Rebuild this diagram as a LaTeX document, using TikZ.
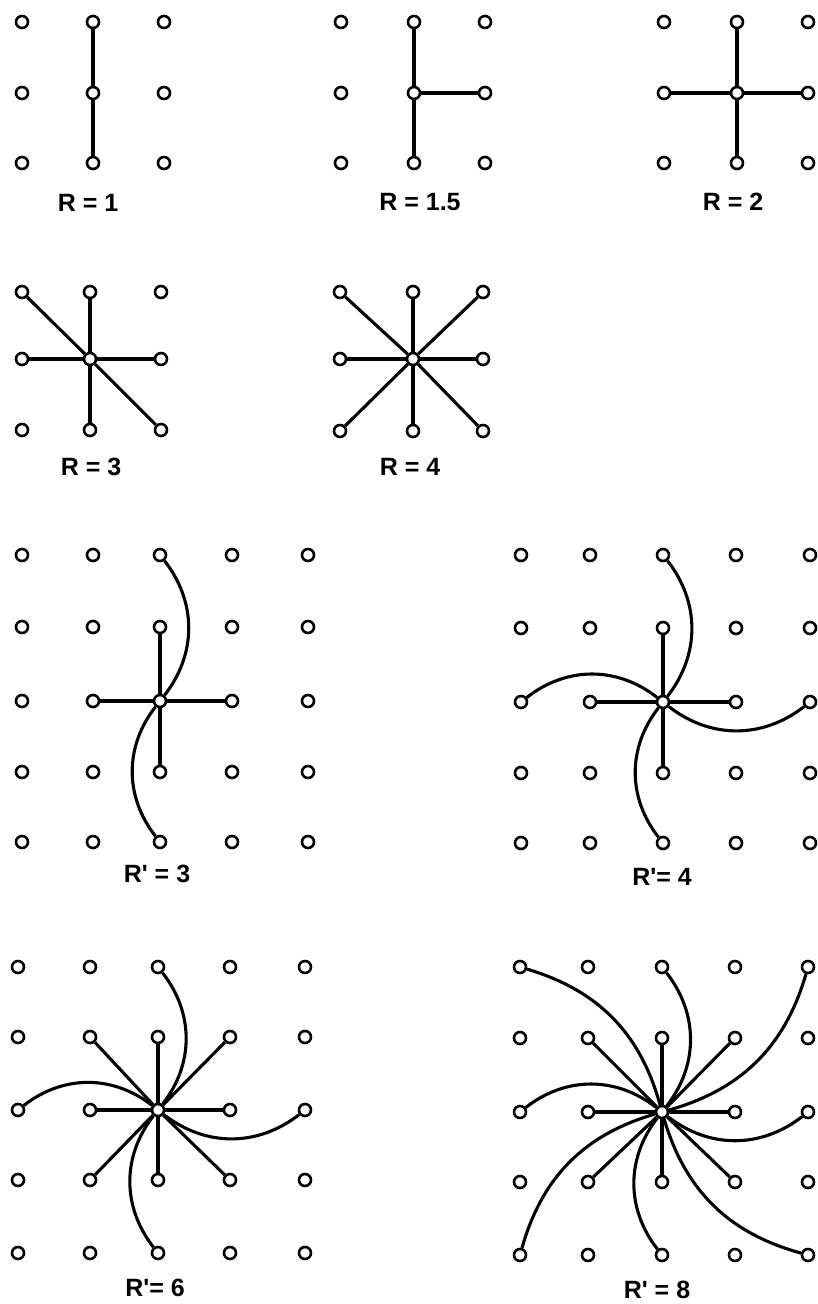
\documentclass[tikz,border=0pt]{standalone}
\usepackage{fontspec}
\setmainfont{Liberation Sans}
\begin{document}
\begin{tikzpicture}[x=1pt,y=-1pt,
  dot/.style={circle,draw,fill=white,line width=2.6pt,minimum size=12pt,inner sep=0pt},
  link/.style={line width=3.1pt},
  curl/.style={line width=3.1pt,bend right=38},
  curlc/.style={line width=3.1pt,bend right=29},
  lbl/.style={font=\fontsize{25}{25}\selectfont\bfseries,inner sep=0pt}]
\useasboundingbox (0,0) rectangle (818,1304);
% 3x3 grids
\foreach \p/\xa/\xb/\xc/\ya/\yb/\yc in {a/22/93/164/22/93/163, b/341/414/485/22/93/163, c/664/737/808/22/93/163, d/22/90/161/292/359/430, e/340/413/483/292/359/431}{
  \foreach \x [count=\i] in {\xa,\xb,\xc}{
    \foreach \y [count=\j] in {\ya,\yb,\yc}{
      \node[dot] (\p-\i-\j) at (\x,\y) {};
    }
  }
}
% 5x5 grids
\foreach \p/\xa/\xb/\xc/\xd/\xe/\ya/\yb/\yc/\yd/\ye in {f/22/93/160/232/308/555/627/701/772/842, g/521/590/663/736/810/555/628/702/773/843, h/18/90/158/230/305/967/1037/1110/1180/1253, k/520/588/662/735/808/967/1038/1112/1182/1255}{
  \foreach \x [count=\i] in {\xa,\xb,\xc,\xd,\xe}{
    \foreach \y [count=\j] in {\ya,\yb,\yc,\yd,\ye}{
      \node[dot] (\p-\i-\j) at (\x,\y) {};
    }
  }
}
% R = 1
\draw[link] (a-2-2) -- (a-2-1);
\draw[link] (a-2-2) -- (a-2-3);
% R = 1.5
\foreach \n in {2-1,2-3,3-2} \draw[link] (b-2-2) -- (b-\n);
% R = 2
\foreach \n in {2-1,2-3,1-2,3-2} \draw[link] (c-2-2) -- (c-\n);
% R = 3
\foreach \n in {2-1,2-3,1-2,3-2,1-1,3-3} \draw[link] (d-2-2) -- (d-\n);
% R = 4
\foreach \n in {2-1,2-3,1-2,3-2,1-1,3-3,1-3,3-1} \draw[link] (e-2-2) -- (e-\n);
% R' = 3
\foreach \n in {3-2,3-4,2-3,4-3} \draw[link] (f-3-3) -- (f-\n);
\foreach \n in {3-1,3-5} \draw[curl] (f-3-3) to (f-\n);
% R' = 4
\foreach \n in {3-2,3-4,2-3,4-3} \draw[link] (g-3-3) -- (g-\n);
\foreach \n in {3-1,3-5,1-3,5-3} \draw[curl] (g-3-3) to (g-\n);
% R' = 6
\foreach \n in {3-2,3-4,2-3,4-3,2-2,4-4,2-4,4-2} \draw[link] (h-3-3) -- (h-\n);
\foreach \n in {3-1,3-5,1-3,5-3} \draw[curl] (h-3-3) to (h-\n);
% R' = 8
\foreach \n in {3-2,3-4,2-3,4-3,2-2,4-4,2-4,4-2} \draw[link] (k-3-3) -- (k-\n);
\foreach \n in {3-1,3-5,1-3,5-3} \draw[curl] (k-3-3) to (k-\n);
\foreach \n in {1-1,5-1,1-5,5-5} \draw[curlc] (k-3-3) to (k-\n);
% labels
\node[lbl] (la) at (88,203) {R = 1};
\node[lbl] (lb) at (420,202) {R = 1.5};
\node[lbl] (lc) at (733,202) {R = 2};
\node[lbl] (ld) at (91,467) {R = 3};
\node[lbl] (le) at (410,467) {R = 4};
\node[lbl] (lf) at (157,874) {R\textquotesingle{} = 3};
\node[lbl] (lg) at (662,877) {R\textquotesingle{}= 4};
\node[lbl] (lh) at (155,1288) {R\textquotesingle{}= 6};
\node[lbl] (lk) at (657,1290) {R\textquotesingle{} = 8};
\end{tikzpicture}
\end{document}
